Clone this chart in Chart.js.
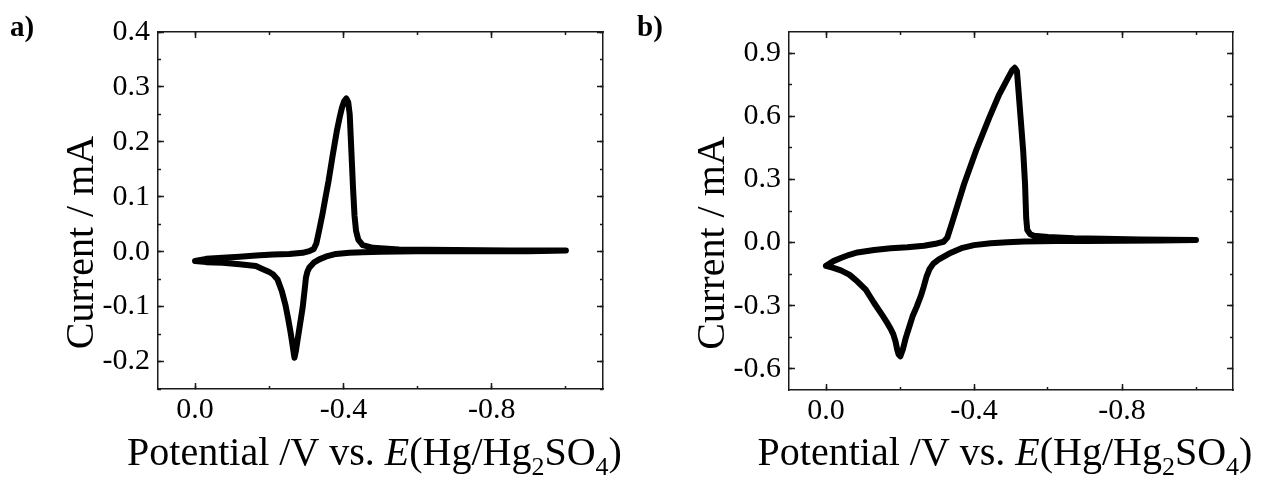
<!DOCTYPE html>
<html>
<head>
<meta charset="utf-8">
<script src="https://cdn.jsdelivr.net/npm/chart.js@4.4.1/dist/chart.umd.min.js"></script>
<style>
  html, body { margin: 0; padding: 0; background: #fff; }
  #wrap { position: relative; width: 1265px; height: 485px; }
  canvas { position: absolute; top: 0; }
</style>
</head>
<body>
<div id="wrap">
  <canvas id="cvA" width="632" height="485" style="left:0"></canvas>
  <canvas id="cvB" width="633" height="485" style="left:632px"></canvas>
</div>
<script>
// panel a) one CV loop: potential (V) / current (mA)
const potA = [0.000, -0.030, -0.074, -0.120, -0.164, -0.210, -0.254, -0.290, -0.308, -0.320, -0.327, -0.335,
  -0.344, -0.352, -0.360, -0.371, -0.382, -0.390, -0.396, -0.402, -0.408, -0.413, -0.417, -0.420, -0.423,
  -0.426, -0.430, -0.434, -0.440, -0.452, -0.480, -0.550, -0.700, -0.850, -1.000,
  -0.900, -0.750, -0.600, -0.500, -0.452, -0.416, -0.380, -0.357, -0.335, -0.320, -0.308, -0.303, -0.299,
  -0.295, -0.290, -0.283, -0.276, -0.272, -0.268, -0.265, -0.261, -0.257, -0.251, -0.244, -0.234, -0.222,
  -0.210, -0.200, -0.180, -0.164, -0.120, -0.074, -0.030, 0.000];
const curA = [-0.017, -0.013, -0.011, -0.009, -0.007, -0.005, -0.004, -0.002, 0.001, 0.005, 0.015, 0.040,
  0.070, 0.100, 0.129, 0.175, 0.219, 0.245, 0.262, 0.274, 0.279, 0.272, 0.250, 0.205, 0.160,
  0.115, 0.065, 0.038, 0.022, 0.012, 0.007, 0.004, 0.003, 0.002, 0.002,
  0.001, 0.001, 0.001, 0.000, -0.001, -0.002, -0.004, -0.008, -0.014, -0.020, -0.029, -0.036, -0.047,
  -0.072, -0.102, -0.132, -0.162, -0.180, -0.193, -0.180, -0.162, -0.145, -0.122, -0.098, -0.072, -0.050,
  -0.041, -0.037, -0.031, -0.026, -0.023, -0.020, -0.019, -0.017];

// panel b)
const potB = [0.000, -0.020, -0.040, -0.063, -0.085, -0.130, -0.175, -0.220, -0.265, -0.300, -0.318, -0.328,
  -0.340, -0.373, -0.405, -0.441, -0.468, -0.492, -0.503, -0.510, -0.516, -0.519, -0.526, -0.533, -0.538,
  -0.541, -0.544, -0.552, -0.562, -0.600, -0.670, -0.750, -0.850, -1.000,
  -0.900, -0.800, -0.700, -0.625, -0.535, -0.490, -0.445, -0.400, -0.369, -0.333, -0.305, -0.290, -0.280,
  -0.272, -0.264, -0.256, -0.245, -0.234, -0.225, -0.216, -0.208, -0.201, -0.196, -0.192, -0.188, -0.182,
  -0.175, -0.165, -0.153, -0.130, -0.108, -0.085, -0.063, -0.040, -0.020, 0.000];
const curB = [-0.110, -0.088, -0.073, -0.058, -0.047, -0.035, -0.027, -0.022, -0.015, -0.004, 0.004, 0.024,
  0.090, 0.277, 0.434, 0.592, 0.703, 0.782, 0.818, 0.830, 0.815, 0.750, 0.592, 0.434, 0.277,
  0.118, 0.060, 0.040, 0.032, 0.027, 0.021, 0.018, 0.015, 0.012,
  0.010, 0.009, 0.008, 0.007, 0.005, 0.002, -0.003, -0.012, -0.025, -0.052, -0.080, -0.100, -0.125,
  -0.160, -0.210, -0.255, -0.305, -0.350, -0.400, -0.450, -0.505, -0.540, -0.530, -0.505, -0.470, -0.436,
  -0.410, -0.380, -0.347, -0.287, -0.225, -0.185, -0.152, -0.132, -0.120, -0.110];

const xMajor = [0.0, -0.4, -0.8];
const xMinor = [0.0, -0.2, -0.4, -0.6, -0.8, -1.0];
const yMajorA = [-0.2, -0.1, 0.0, 0.1, 0.2, 0.3, 0.4];
const yMinorA = [-0.25, -0.2, -0.15, -0.1, -0.05, 0.0, 0.05, 0.1, 0.15, 0.2, 0.25, 0.3, 0.35, 0.4];
const yMajorB = [-0.6, -0.3, 0.0, 0.3, 0.6, 0.9];
const yMinorB = [-0.6, -0.45, -0.3, -0.15, 0.0, 0.15, 0.3, 0.45, 0.6, 0.75, 0.9];

const yTitle = "Current / mA";
const xTitle = [["Potential /V vs. ", ""], ["E", "italic"], ["(Hg/Hg", ""], ["2", "sub"], ["SO", ""], ["4", "sub"], [")", ""]];

const ink = "#1a1a1a";
const serif = "'Liberation Serif', 'Times New Roman', serif";

// one axis = one set of inward ticks; labels only on the main bottom/left ones
function axis(pos, ticks, len, range, main, size) {
  const horiz = pos === "top" || pos === "bottom";
  const labelled = main && (pos === "bottom" || pos === "left");
  return {
    type: "linear",
    axis: horiz ? "x" : "y",
    position: pos,
    reverse: horiz,
    min: range[0],
    max: range[1],
    weight: main ? 1 : 0,
    afterBuildTicks: s => { s.ticks = ticks.map(v => ({ value: v })); },
    grid: { drawOnChartArea: false, tickLength: -len, tickColor: ink, tickWidth: 1.5 },
    border: { display: main, color: ink, width: 1.5 },
    ticks: {
      display: labelled,
      autoSkip: false,
      maxRotation: 0,
      color: "#000",
      padding: horiz ? 9 : 14,
      font: { family: serif, size: 30 },
      callback: v => v.toFixed(1)
    },
    afterFit: s => {
      const d = labelled ? size : 0;
      if (horiz) s.height = d; else s.width = d;
    }
  };
}

const titles = {
  id: "titles",
  afterDraw(chart, args, o) {
    const { ctx, chartArea: ca } = chart;
    ctx.save();
    ctx.fillStyle = "#000";
    ctx.textBaseline = "alphabetic";
    ctx.font = "bold 29px " + serif;
    ctx.fillText(o.letter, o.letterX, 36);

    ctx.save();
    ctx.font = "40px " + serif;
    ctx.textAlign = "center";
    ctx.translate(ca.left - 65, (ca.top + ca.bottom) / 2 + 32);
    ctx.rotate(-Math.PI / 2);
    ctx.fillText(yTitle, 0, 0);
    ctx.restore();

    const fontOf = k => k === "italic" ? "italic 40px " + serif : k === "sub" ? "26px " + serif : "40px " + serif;
    let w = 0;
    xTitle.forEach(([t, k]) => { ctx.font = fontOf(k); w += ctx.measureText(t).width; });
    let x = (ca.left + ca.right) / 2 - 6 - w / 2;
    ctx.textAlign = "left";
    xTitle.forEach(([t, k]) => {
      ctx.font = fontOf(k);
      ctx.fillText(t, x, 465 + (k === "sub" ? 10 : 0));
      x += ctx.measureText(t).width;
    });
    ctx.restore();
  }
};

function cv(id, pot, cur, yRange, yMajor, yMinor, pad, xSize, ySize, letter, letterX) {
  const xRange = [-1.1, 0.1];
  const pts = pot.map((p, i) => ({ x: p, y: cur[i] }));
  new Chart(document.getElementById(id), {
    type: "line",
    data: {
      datasets: [{
        data: pts,
        xAxisID: "x",
        yAxisID: "y",
        borderColor: "#000",
        borderWidth: 6,
        borderJoinStyle: "round",
        borderCapStyle: "round",
        pointRadius: 0,
        tension: 0,
        fill: false
      }]
    },
    options: {
      responsive: false,
      animation: false,
      devicePixelRatio: 1,
      layout: { padding: pad },
      plugins: { legend: { display: false }, tooltip: { enabled: false }, titles: { letter, letterX } },
      scales: {
        x: axis("bottom", xMajor, 6, xRange, true, xSize),
        xm: axis("bottom", xMinor, 3, xRange, false),
        xt: axis("top", xMajor, 6, xRange, true),
        xtm: axis("top", xMinor, 3, xRange, false),
        y: axis("left", yMajor, 6, yRange, true, ySize),
        ym: axis("left", yMinor, 3, yRange, false),
        yr: axis("right", yMajor, 6, yRange, true),
        yrm: axis("right", yMinor, 3, yRange, false)
      }
    },
    plugins: [titles]
  });
}

cv("cvA", potA, curA, [-0.25, 0.4], yMajorA, yMinorA, { left: 0, right: 29, top: 31, bottom: 0 }, 96, 158, "a)", 10);
cv("cvB", potB, curB, [-0.7, 1.0], yMajorB, yMinorB, { left: 0, right: 32, top: 31, bottom: 0 }, 95, 157, "b)", 5);
</script>
</body>
</html>
